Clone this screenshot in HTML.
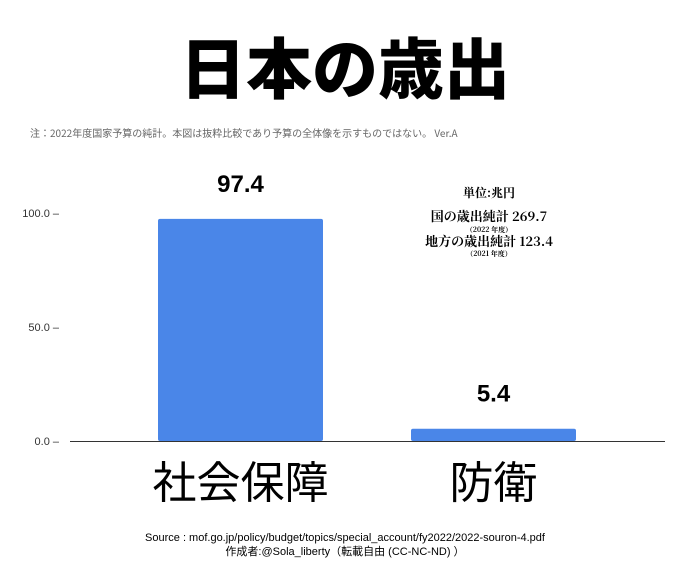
<!DOCTYPE html>
<html><head><meta charset="utf-8"><style>
body{margin:0;background:#fff;width:680px;height:574px;overflow:hidden;font-family:"Liberation Sans","Noto Sans CJK JP",sans-serif}
</style></head><body>
<svg width="680" height="574" xmlns="http://www.w3.org/2000/svg">
<text x="345" y="93" text-anchor="middle" font-size="66" font-weight="900" fill="#000" font-family="Noto Sans CJK JP, sans-serif">日本の歳出</text>
<text x="30" y="137" font-size="10" fill="#666" font-family="Noto Sans CJK JP, sans-serif">注：2022年度国家予算の純計。本図は抜粋比較であり予算の全体像を示すものではない。 Ver.A</text>
<g font-family="Noto Serif CJK SC, serif" font-weight="bold" text-anchor="middle" fill="#000">
<text x="489" y="197" font-size="12">単位:兆円</text>
<text x="489" y="221" font-size="13">国の歳出純計 269.7</text>
<text x="489" y="232" font-size="7">（2022 年度）</text>
<text x="489" y="246" font-size="13">地方の歳出純計 123.4</text>
<text x="489" y="256" font-size="7">（2021 年度）</text>
</g>
<g id="axis"></g>
<g id="bars"></g>
<text x="345" y="541" text-anchor="middle" font-size="11" fill="#000">Source : mof.go.jp/policy/budget/topics/special_account/fy2022/2022-souron-4.pdf</text>
<text x="345" y="555" text-anchor="middle" font-size="11" fill="#000" font-family="Liberation Sans, Noto Sans CJK JP, sans-serif">作成者:@Sola_liberty（転載自由 (CC-NC-ND) ）</text>
</svg>
<script>
const categories=["社会保障","防衛"];
const values=[97.4,5.4];
const valueLabels=["97.4","5.4"];
const ticks=[0,50,100];
const tickLabels=["0.0","50.0","100.0"];
const NS="http://www.w3.org/2000/svg";
const y0=441,pxPer=2.28;
const y=v=>y0-v*pxPer;
const x=i=>158+i*253;
const bw=165;
const ax=document.getElementById('axis'),bg=document.getElementById('bars');
function mk(t,a,p){const e=document.createElementNS(NS,t);for(const k in a)e.setAttribute(k,a[k]);p.appendChild(e);return e;}
ticks.forEach((t,i)=>{
 const tx=mk('text',{x:59,y:y(t)+4,'text-anchor':'end','font-size':11,fill:'#333'},ax);
 tx.textContent=tickLabels[i]+" –";
 
 
});
const bl=mk('line',{x1:70,x2:665,y1:y0+0.5,y2:y0+0.5,stroke:'#333','stroke-width':1},ax);


values.forEach((v,i)=>{
 const r=mk('rect',{x:x(i),y:y(v),width:bw,height:y0-y(v),fill:'#4a86e8',rx:2},bg);
 
 
 const l=mk('text',{x:x(i)+bw/2,y:y(v)-27,'text-anchor':'middle','font-size':24,'font-weight':'bold',fill:'#000'},bg);
 l.textContent=valueLabels[i];
 
 
 const c=mk('text',{x:x(i)+bw/2,y:498,'text-anchor':'middle','font-size':44,fill:'#000','font-family':'Noto Sans CJK JP, sans-serif'},bg);
 c.textContent=categories[i];
 
 
});
</script>
</body></html>
